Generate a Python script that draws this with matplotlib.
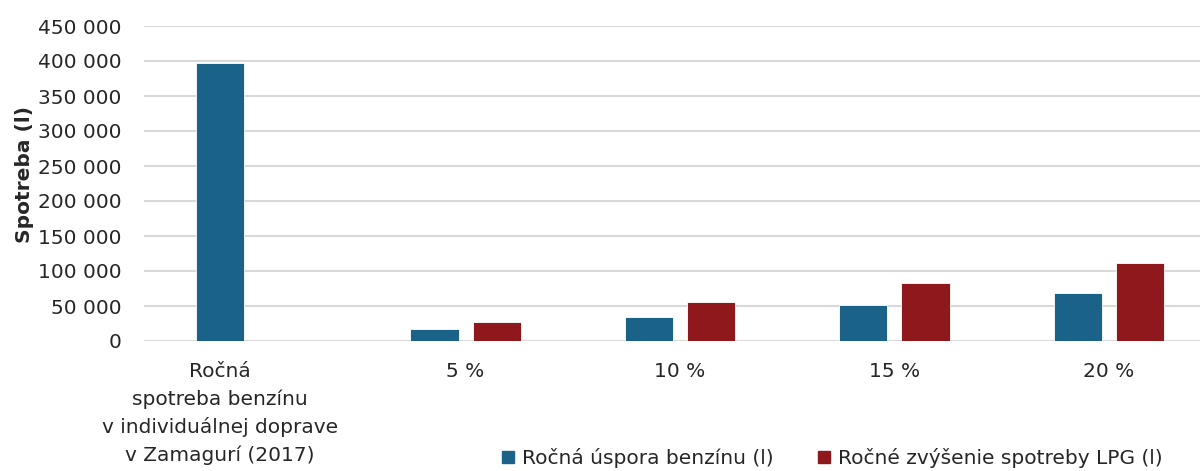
import numpy as np
import matplotlib.pyplot as plt
from matplotlib.patches import Patch

categories = ["Ročná\nspotreba benzínu\nv individuálnej doprave\nv Zamagurí (2017)",
              "5 %", "10 %", "15 %", "20 %"]
usp_benzin = [397000, 17000, 34500, 52000, 69000]
lpg_zvys = [np.nan, 27700, 55500, 83300, 111200]
y_ticks = [0, 50000, 100000, 150000, 200000, 250000, 300000, 350000, 400000, 450000]

blue = "#1B6289"
red = "#8E181B"
txt = "#262626"
plt.rcParams["font.family"] = "DejaVu Sans"

fig = plt.figure(figsize=(12, 4.71), dpi=100)
ax = fig.add_axes([144 / 1200, 130 / 471, 1072 / 1200, 315 / 471])

x = np.arange(len(categories))
w = 0.224
off = 0.145
ax.bar(x - off, usp_benzin, w, color=blue, edgecolor="white", linewidth=0.6, zorder=3)
ax.bar(x + off, lpg_zvys, w, color=red, edgecolor="white", linewidth=0.6, zorder=3)

ax.set_xlim(-0.5, 4.5)
ax.set_ylim(0, 450000)
ax.set_yticks(y_ticks)
ax.set_yticklabels([f"{v:,}".replace(",", " ") for v in y_ticks],
                   fontsize=14.5, color=txt)
ax.grid(axis="y", color="#D9D9D9", linewidth=1.5, zorder=0)
for s in ax.spines.values():
    s.set_visible(False)
ax.tick_params(axis="both", length=0)
ax.tick_params(axis="y", pad=16)

# first label sits under the blue bar, the rest are centred on the group
tick_pos = [x[0] - off] + list(x[1:])
ax.set_xticks(tick_pos)
ax.set_xticklabels(categories, fontsize=14.5, color=txt, linespacing=1.53)
ax.tick_params(axis="x", pad=15)

ax.set_ylabel("Spotreba (l)", fontsize=14.5, fontweight="bold", color=txt)
ax.yaxis.set_label_coords(-0.103, 0.527)

handles = [Patch(color=blue, label="Ročná úspora benzínu (l)"),
           Patch(color=red, label="Ročné zvýšenie spotreby LPG (l)")]
fig.legend(handles=handles, loc="center", bbox_to_anchor=(832 / 1200, 1 - 458 / 471),
           ncol=2, frameon=False, prop={"size": 14.5},
           handlelength=0.6, handleheight=0.6, handletextpad=0.4, columnspacing=2.2,
           labelcolor=txt)

fig.savefig("out.png", dpi=100)
